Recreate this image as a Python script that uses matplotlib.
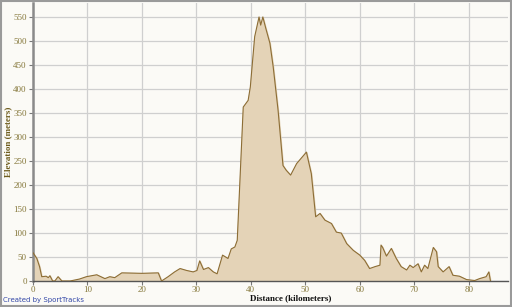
''' Elevation profile as exported by SportTracks '''

import matplotlib
matplotlib.use('Agg')
import matplotlib.pyplot as plt
from matplotlib.patches import Rectangle

# distance (km) and elevation (m)
distance = [0, 0.7, 1.2, 1.6, 2.4, 2.8, 3.1, 3.6, 4.0, 4.6, 5.3, 6.8, 8.5, 9.8, 11.7,
            13.2, 14.1, 15.0, 16.3, 20.0, 23.0, 23.6, 24.8, 26.0, 27.0, 28.2, 29.4,
            30.1, 30.6, 31.3, 32.2, 33.1, 33.8, 34.8, 35.8, 36.4, 37.06, 37.5, 38.6,
            39.5, 39.9, 40.7, 41.5, 41.8, 42.2, 42.75, 43.5, 44.1, 45.0, 45.9, 46.5,
            47.3, 48.4, 50.2, 51.1, 51.9, 52.7, 53.6, 54.8, 55.7, 56.6, 57.6, 58.8,
            60.0, 60.9, 61.8, 62.8, 63.7, 63.9, 64.2, 64.9, 65.8, 66.7, 67.6, 68.6,
            69.2, 69.8, 70.7, 71.3, 71.9, 72.5, 73.5, 74.1, 74.4, 75.3, 76.4, 77.1,
            78.3, 79.6, 81.1, 82.0, 83.2, 83.7, 84.0]
elevation = [59, 47, 30, 9, 10, 7, 11, 0, 0, 9, 0, 0, 4, 9, 13,
             5, 9, 7, 17, 16, 17, 0, 9, 19, 26, 22, 19,
             22, 42, 24, 28, 19, 15, 54, 47, 67, 71, 85, 363,
             377, 405, 510, 551, 534, 551, 527, 496, 447, 356, 241, 231,
             221, 245, 269, 224, 134, 141, 127, 120, 102, 100, 78, 64,
             54, 43, 26, 30, 33, 75, 70, 52, 68, 47, 30, 23,
             33, 28, 36, 19, 33, 26, 70, 61, 30, 19, 30, 12,
             10, 3, 1, 5, 9, 19, 0]

x_ticks = [0, 10, 20, 30, 40, 50, 60, 70, 80]
y_ticks = [0, 50, 100, 150, 200, 250, 300, 350, 400, 450, 500, 550]

bg = '#fbfaf6'
tick_col = '#85773a'

fig = plt.figure(figsize=(5.12, 3.07), dpi=100, facecolor=bg)
ax = fig.add_axes([0.0645, 0.0847, 0.9275, 0.9053], facecolor=bg)

ax.fill_between(distance, elevation, 0, color='#e4d3b7', zorder=2)
ax.plot(distance, elevation, color='#8c6d35', lw=0.8, zorder=3)

ax.set_xlim(0, 87.2)
ax.set_ylim(0, 580)
ax.set_xticks(x_ticks)
ax.set_yticks(y_ticks)
ax.grid(True, color='#cfcfcf', lw=0.9, zorder=0)
ax.set_axisbelow(True)

for s in ['top', 'right']:
    ax.spines[s].set_visible(False)
ax.spines['left'].set_color('#8a8a8a')
ax.spines['left'].set_linewidth(1.8)
ax.spines['bottom'].set_color('#555555')
ax.spines['bottom'].set_linewidth(1.0)

ax.tick_params(axis='both', length=3, width=0.8, color='#777777',
               labelsize=6.5, labelcolor=tick_col, pad=1.5)
ax.tick_params(axis='x', pad=0.5)
for lab in ax.get_xticklabels() + ax.get_yticklabels():
    lab.set_family(['Liberation Serif'])

ax.set_ylabel('Elevation (meters)', family='Liberation Serif', fontweight='bold',
              fontsize=6.5, color='#6e5c1c')
ax.yaxis.set_label_coords(-0.043, 0.5)
fig.text(0.568, 0.028, 'Distance (kilometers)', family='Liberation Serif',
         fontweight='bold', fontsize=6.5, color='#111111', ha='center', va='center')
fig.text(0.006, 0.022, 'Created by SportTracks', family='DejaVu Sans',
         fontsize=5, color='#3448a8', ha='left', va='center')

# grey frame round the whole picture
fig.patches.append(Rectangle((0.001, 0.002), 0.997, 0.995, transform=fig.transFigure,
                             fill=False, edgecolor='#9a9a9a', lw=1.5))

fig.savefig('out.png', dpi=100, facecolor=bg)
